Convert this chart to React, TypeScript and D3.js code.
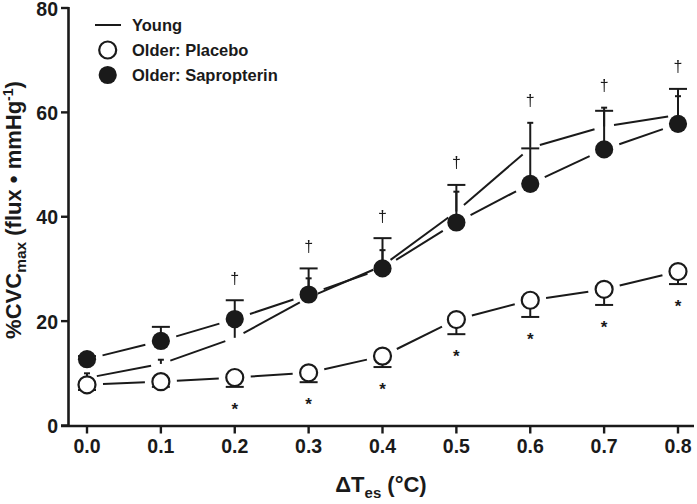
import React from "react";
import * as d3 from "d3";

const xValues = [0.0, 0.1, 0.2, 0.3, 0.4, 0.5, 0.6, 0.7, 0.8];
const youngMean = [9.1, 11.8, 16.8, 24.5, 30.6, 41.0, 53.2, 57.3, 59.5];
const youngErr = [0.9, 0.8, 3.0, 3.7, 3.0, 3.8, 4.8, 3.6, 3.6];
const placeboMean = [7.8, 8.4, 9.2, 10.1, 13.3, 20.3, 24.0, 26.1, 29.5];
const placeboErr = [1.0, 1.0, 1.8, 1.8, 2.1, 2.8, 3.2, 3.0, 2.4];
const sapMean = [12.7, 16.2, 20.4, 25.1, 30.1, 38.9, 46.3, 52.9, 57.8];
const sapErr = [0.6, 2.7, 3.6, 5.0, 5.8, 7.2, 6.8, 7.4, 6.7];
const daggerIdx = [2, 3, 4, 5, 6, 7, 8];
const starIdx = [2, 3, 4, 5, 6, 7, 8];
const xTicks = [0, 0.1, 0.2, 0.3, 0.4, 0.5, 0.6, 0.7, 0.8];
const yTicks = [0, 20, 40, 60, 80];
const legendLabels = ["Young", "Older: Placebo", "Older: Sapropterin"];

const W = 697;
const H = 504;
const FONT = "'Liberation Sans', Arial, Helvetica, sans-serif";
const INK = "#1a1a1a";

const x = d3.scaleLinear().domain([0, 0.8]).range([87, 678]);
const y = d3.scaleLinear().domain([0, 80]).range([425.5, 8]);

function segments(means: number[], gap: number) {
  const out: { x1: number; y1: number; x2: number; y2: number }[] = [];
  for (let i = 0; i < means.length - 1; i++) {
    const ax = x(xValues[i]), ay = y(means[i]);
    const bx = x(xValues[i + 1]), by = y(means[i + 1]);
    const dx = bx - ax, dy = by - ay;
    const len = Math.sqrt(dx * dx + dy * dy);
    const ux = dx / len, uy = dy / len;
    out.push({ x1: ax + ux * gap, y1: ay + uy * gap, x2: bx - ux * gap, y2: by - uy * gap });
  }
  return out;
}

export default function App() {
  const r = 8.5;
  const sw = 2.2;
  return (
    <svg width={W} height={H} style={{ position: "absolute", left: 0, top: 0, background: "#fff" }} fontFamily={FONT}>
      <rect x={0} y={0} width={W} height={H} fill="#fff" />
      {/* axes */}
      <line x1={68.5} y1={y(80) - 1} x2={68.5} y2={y(0) + 1} stroke={INK} strokeWidth={2.6} />
      <line x1={61} y1={y(0) + 0.5} x2={694} y2={y(0) + 0.5} stroke={INK} strokeWidth={2.6} />
      {yTicks.map((t) => (
        <g key={"yt" + t}>
          <line x1={61} x2={68.5} y1={y(t)} y2={y(t)} stroke={INK} strokeWidth={2.4} />
          <text x={58} y={y(t) + 7.5} textAnchor="end" fontSize={19.5} fontWeight="bold" fill={INK}>
            {t}
          </text>
        </g>
      ))}
      {xTicks.map((t) => (
        <g key={"xt" + t}>
          <line x1={x(t)} x2={x(t)} y1={y(0)} y2={y(0) + 8} stroke={INK} strokeWidth={2.4} />
          <text x={x(t)} y={453} textAnchor="middle" fontSize={19.5} fontWeight="bold" fill={INK}>
            {d3.format(".1f")(t)}
          </text>
        </g>
      ))}
      {/* axis labels */}
      <text x={381} y={491.5} textAnchor="middle" fontSize={22} fontWeight="bold" fill={INK}>
        <tspan>ΔT</tspan>
        <tspan fontSize={15} dy={6}>es</tspan>
        <tspan dy={-6}> (°C)</tspan>
      </text>
      <text transform="translate(20.5,210) rotate(-90)" textAnchor="middle" fontSize={22} fontWeight="bold" fill={INK}>
        <tspan>%CVC</tspan>
        <tspan fontSize={15.5} dy={5}>max</tspan>
        <tspan dy={-5}> (flux • mmHg</tspan>
        <tspan fontSize={14} dy={-8}>-1</tspan>
        <tspan dy={8}>)</tspan>
      </text>

      {/* connecting lines */}
      {segments(youngMean, 10).map((s, i) => (
        <line key={"yl" + i} {...s} stroke={INK} strokeWidth={2} />
      ))}
      {segments(sapMean, 16).map((s, i) => (
        <line key={"sl" + i} {...s} stroke={INK} strokeWidth={2} />
      ))}
      {segments(placeboMean, 16).map((s, i) => (
        <line key={"pl" + i} {...s} stroke={INK} strokeWidth={2} />
      ))}

      {/* young error bars (narrow caps) */}
      {xValues.map((v, i) => (
        <g key={"ye" + i}>
          <line x1={x(v)} x2={x(v)} y1={y(youngMean[i])} y2={y(youngMean[i] + youngErr[i])} stroke={INK} strokeWidth={2} />
          <line x1={x(v) - 3} x2={x(v) + 3} y1={y(youngMean[i] + youngErr[i])} y2={y(youngMean[i] + youngErr[i])} stroke={INK} strokeWidth={2} />
        </g>
      ))}
      {/* sapropterin error bars (wide caps) */}
      {xValues.map((v, i) => (
        <g key={"se" + i}>
          <line x1={x(v)} x2={x(v)} y1={y(sapMean[i])} y2={y(sapMean[i] + sapErr[i])} stroke={INK} strokeWidth={2} />
          <line x1={x(v) - 9} x2={x(v) + 9} y1={y(sapMean[i] + sapErr[i])} y2={y(sapMean[i] + sapErr[i])} stroke={INK} strokeWidth={2} />
        </g>
      ))}
      {/* placebo error bars (downward) */}
      {xValues.map((v, i) => (
        <g key={"pe" + i}>
          <line x1={x(v)} x2={x(v)} y1={y(placeboMean[i])} y2={y(placeboMean[i] - placeboErr[i])} stroke={INK} strokeWidth={2} />
          <line x1={x(v) - 9} x2={x(v) + 9} y1={y(placeboMean[i] - placeboErr[i])} y2={y(placeboMean[i] - placeboErr[i])} stroke={INK} strokeWidth={2} />
        </g>
      ))}
      {/* symbols */}
      {xValues.map((v, i) => (
        <circle key={"sc" + i} cx={x(v)} cy={y(sapMean[i])} r={r + 0.6} fill={INK} />
      ))}
      {xValues.map((v, i) => (
        <circle key={"pc" + i} cx={x(v)} cy={y(placeboMean[i])} r={r} fill="#fff" stroke={INK} strokeWidth={sw} />
      ))}

      {/* significance marks */}
      <g style={{ filter: "grayscale(100%)" }}>
        {daggerIdx.map((i) => {
          const top = Math.max(sapMean[i] + sapErr[i], youngMean[i] + youngErr[i]);
          return (
            <text key={"dg" + i} x={x(xValues[i])} y={y(top) - 21 + 4.5} textAnchor="middle" fontSize={16} fill={INK}>
              †
            </text>
          );
        })}
      </g>
      {starIdx.map((i) => {
        const bot = placeboMean[i] - placeboErr[i];
        return (
          <text key={"st" + i} x={x(xValues[i])} y={y(bot) + 18.5 + 9.5} textAnchor="middle" fontSize={17} fontWeight="bold" fill={INK}>
            *
          </text>
        );
      })}

      {/* legend */}
      <line x1={95} x2={121} y1={25} y2={25} stroke={INK} strokeWidth={2} />
      <circle cx={107.7} cy={50} r={r} fill="#fff" stroke={INK} strokeWidth={sw} />
      <circle cx={107.7} cy={75} r={r + 0.6} fill={INK} />
      {legendLabels.map((l, i) => (
        <text key={"lg" + i} x={132} y={25 + i * 25 + 6} fontSize={16.5} fontWeight="bold" fill={INK}>
          {l}
        </text>
      ))}
    </svg>
  );
}
